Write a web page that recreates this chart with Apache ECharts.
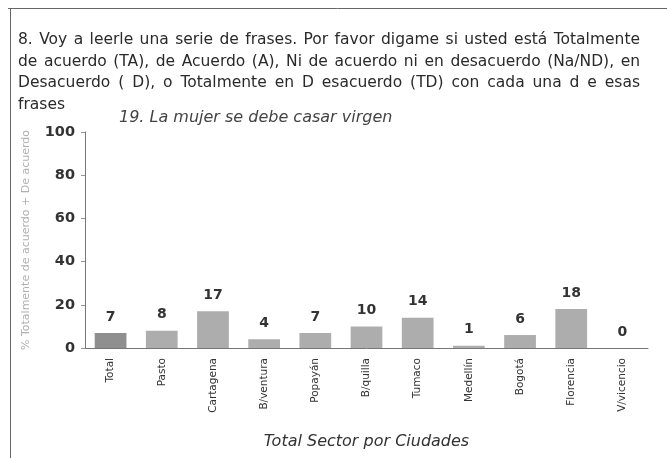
<!DOCTYPE html>
<html>
<head>
<meta charset="utf-8">
<script src="https://cdn.jsdelivr.net/npm/echarts@6/dist/echarts.min.js"></script>
<style>
  html, body { margin: 0; padding: 0; background: #fff; }
  #chart { width: 667px; height: 458px; }
</style>
</head>
<body>
<div id="chart"></div>
<script>
var ciudades = ['Total', 'Pasto', 'Cartagena', 'B/ventura', 'Popayán', 'B/quilla',
    'Tumaco', 'Medellín', 'Bogotá', 'Florencia', 'V/vicencio'];
var deAcuerdo = [7, 8, 17, 4, 7, 10, 14, 1, 6, 18, 0];
var yTicks = [0, 20, 40, 60, 80, 100];

var pregunta = [
    '8. Voy a leerle una serie de frases. Por favor digame si usted está Totalmente',
    'de acuerdo (TA), de Acuerdo (A), Ni de acuerdo ni en desacuerdo (Na/ND), en',
    'Desacuerdo ( D), o Totalmente en D esacuerdo (TD) con cada una d e esas',
    'frases'
];

var font = '"DejaVu Sans", sans-serif';
var headFont = '15.5px ' + font;

var chart = echarts.init(document.getElementById('chart'));

// the header is justified in the original: spread the words of each line
var ctx = document.createElement('canvas').getContext('2d');
ctx.font = headFont;
var graficos = [];
pregunta.forEach(function (linea, i) {
    var palabras = linea.split(' ');
    var anchos = palabras.map(function (p) { return ctx.measureText(p).width; });
    var total = anchos.reduce(function (a, b) { return a + b; }, 0);
    var hueco = ctx.measureText(' ').width;
    if (i < pregunta.length - 1) hueco = (622 - total) / (palabras.length - 1);
    var x = 18;
    palabras.forEach(function (p, j) {
        graficos.push({
            type: 'text', x: x, y: 32 + i * 21.5,
            style: { text: p, font: headFont, fill: '#2a2a2a' }
        });
        x += anchos[j] + hueco;
    });
});
graficos.push({ type: 'line', shape: { x1: 8, y1: 8.5, x2: 667, y2: 8.5 }, style: { stroke: '#666', lineWidth: 1 } });
graficos.push({ type: 'line', shape: { x1: 10.5, y1: 8, x2: 10.5, y2: 458 }, style: { stroke: '#666', lineWidth: 1 } });

chart.setOption({
    animation: false,
    backgroundColor: '#fff',
    title: {
        text: '19. La mujer se debe casar virgen',
        left: 114, top: 105,
        textStyle: { fontFamily: font, fontStyle: 'italic', fontWeight: 'normal', fontSize: 16, color: '#444' }
    },
    graphic: graficos,
    grid: { left: 85, right: 19, top: 132, bottom: 110 },
    xAxis: {
        type: 'category',
        data: ciudades,
        name: 'Total Sector por Ciudades',
        nameLocation: 'middle',
        nameGap: 86,
        nameTextStyle: { fontFamily: font, fontStyle: 'italic', fontSize: 16, color: '#333' },
        axisLine: { lineStyle: { color: '#777' } },
        axisTick: { length: 3, lineStyle: { color: '#999' } },
        axisLabel: { rotate: 90, fontFamily: font, fontSize: 10.5, color: '#333', margin: 10 }
    },
    yAxis: {
        type: 'value',
        min: yTicks[0], max: yTicks[yTicks.length - 1], interval: 20,
        name: '% Totalmente de acuerdo + De acuerdo',
        nameLocation: 'middle',
        nameGap: 53,
        nameTextStyle: { fontFamily: font, fontSize: 11, color: '#b0b0b0' },
        splitLine: { show: false },
        axisLine: { show: true, lineStyle: { color: '#777' } },
        axisTick: { show: true, length: 4, lineStyle: { color: '#999' } },
        axisLabel: { fontFamily: font, fontWeight: 'bold', fontSize: 14.5, color: '#333', margin: 10 }
    },
    series: [{
        type: 'bar',
        barWidth: '62%',
        data: deAcuerdo.map(function (v, i) {
            return { value: v, itemStyle: { color: i === 0 ? '#8f8f8f' : '#adadad' } };
        }),
        label: {
            show: true, position: 'top', distance: 9,
            fontFamily: font, fontWeight: 'bold', fontSize: 14, color: '#333'
        }
    }]
});
</script>
</body>
</html>
